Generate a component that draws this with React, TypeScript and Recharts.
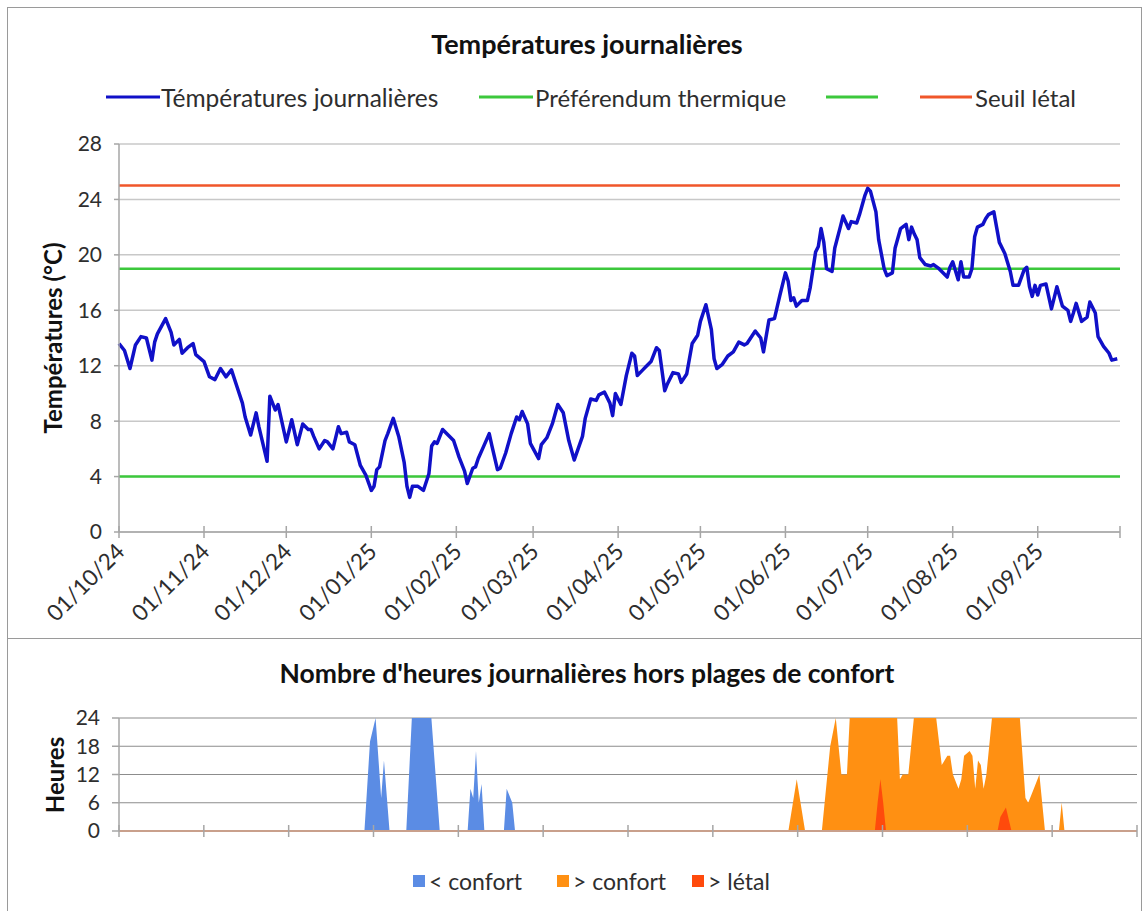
import React from "react";
import {
  LineChart,
  Line,
  ComposedChart,
  Area,
  XAxis,
  YAxis,
  CartesianGrid,
  ReferenceLine,
} from "recharts";

const FONT = 'Lato, "Open Sans", sans-serif';

// days counted from 01/10/24
const monthTicks = [0, 31, 61, 92, 123, 151, 182, 212, 243, 273, 304, 335, 365];
const monthLabels = [
  "01/10/24", "01/11/24", "01/12/24", "01/01/25", "01/02/25", "01/03/25",
  "01/04/25", "01/05/25", "01/06/25", "01/07/25", "01/08/25", "01/09/25", "",
];
const tempTicks = [0, 4, 8, 12, 16, 20, 24, 28];
const hourTicks = [0, 6, 12, 18, 24];

const PREF_LOW = 4;
const PREF_HIGH = 19;
const LETHAL = 25;

// [day, °C]
const dailyTemps: [number, number][] = [
  [0, 13.6], [2, 13.1], [4, 11.8], [6, 13.5], [8, 14.1], [10, 14.0], [12, 12.4], [13, 13.7],
  [14, 14.3], [17, 15.4], [19, 14.4], [20, 13.5], [22, 13.9], [23, 12.9], [25, 13.3], [27, 13.6],
  [28, 12.8], [31, 12.3], [33, 11.2], [35, 11.0], [37, 11.8], [39, 11.2], [41, 11.7], [43, 10.5],
  [45, 9.3], [46, 8.3], [48, 7.0], [50, 8.6], [51, 7.6], [54, 5.1], [55, 9.8], [57, 8.8],
  [58, 9.2], [59, 8.3], [61, 6.5], [63, 8.1], [65, 6.3], [67, 7.8], [69, 7.4], [70, 7.4],
  [71, 6.9], [73, 6.0], [75, 6.6], [76, 6.5], [78, 6.0], [80, 7.6], [81, 7.1], [83, 7.2],
  [84, 6.5], [86, 6.3], [88, 4.8], [90, 4.1], [92, 3.0], [93, 3.3], [94, 4.5], [95, 4.7],
  [97, 6.6], [98, 7.1], [100, 8.2], [102, 6.9], [104, 5.0], [105, 3.3], [106, 2.5], [107, 3.3],
  [109, 3.3], [111, 3.0], [113, 4.2], [114, 6.2], [115, 6.5], [116, 6.4], [118, 7.4], [120, 7.0],
  [122, 6.6], [124, 5.4], [126, 4.4], [127, 3.5], [129, 4.6], [130, 4.7], [131, 5.3], [133, 6.2],
  [135, 7.1], [136, 6.2], [138, 4.5], [139, 4.6], [141, 5.7], [143, 7.1], [145, 8.3], [146, 8.1],
  [147, 8.7], [149, 7.8], [150, 6.4], [153, 5.3], [154, 6.3], [156, 6.8], [158, 7.8], [160, 9.2],
  [162, 8.6], [164, 6.6], [166, 5.2], [169, 6.9], [170, 8.2], [172, 9.6], [174, 9.5], [175, 9.9],
  [177, 10.1], [179, 9.3], [180, 8.4], [181, 10.0], [183, 9.2], [185, 11.3], [187, 12.9], [188, 12.7],
  [189, 11.3], [191, 11.7], [192, 11.9], [194, 12.3], [196, 13.3], [197, 13.1], [199, 10.2], [200, 10.7],
  [202, 11.5], [204, 11.4], [205, 10.8], [207, 11.4], [209, 13.6], [211, 14.2], [212, 15.2], [214, 16.4],
  [216, 14.6], [217, 12.5], [218, 11.8], [220, 12.1], [222, 12.7], [224, 13.0], [226, 13.7], [228, 13.5],
  [229, 13.6], [232, 14.5], [234, 14.0], [235, 13.0], [237, 15.3], [239, 15.4], [241, 17.1], [243, 18.7],
  [244, 18.1], [245, 16.7], [246, 16.9], [247, 16.3], [249, 16.7], [251, 16.7], [252, 17.6], [254, 20.2],
  [255, 20.6], [256, 21.9], [257, 20.9], [258, 19.0], [260, 18.8], [261, 20.5], [263, 22.0], [264, 22.8],
  [266, 21.9], [267, 22.4], [269, 22.3], [270, 22.9], [272, 24.3], [273, 24.8], [274, 24.6], [276, 23.1],
  [277, 21.1], [279, 19.0], [280, 18.5], [282, 18.7], [283, 20.5], [285, 21.9], [287, 22.2], [288, 21.1],
  [289, 22.0], [290, 21.5], [291, 21.1], [292, 19.8], [294, 19.3], [296, 19.2], [297, 19.3], [299, 19.0],
  [300, 18.8], [302, 18.4], [303, 19.1], [304, 19.5], [306, 18.2], [307, 19.5], [308, 18.4], [310, 18.4],
  [311, 19.0], [312, 21.3], [313, 22.0], [315, 22.2], [316, 22.6], [317, 22.9], [319, 23.1], [320, 22.0],
  [321, 20.9], [323, 20.1], [325, 18.8], [326, 17.8], [328, 17.8], [330, 18.9], [331, 19.1], [332, 17.7],
  [333, 17.0], [334, 17.8], [335, 17.1], [336, 17.8], [338, 17.9], [340, 16.1], [341, 16.9], [342, 17.7],
  [344, 16.3], [346, 16.0], [347, 15.2], [348, 15.8], [349, 16.5], [351, 15.2], [353, 15.5], [354, 16.6],
  [356, 15.8], [357, 14.1], [359, 13.4], [361, 12.9], [362, 12.4], [364, 12.5],
];

// [day, hours per day]
const coldHours: [number, number][] = [
  [0, 0], [88, 0], [90, 19], [92, 24], [94, 7], [95, 15], [97, 0],
  [103, 0], [105, 24], [112, 24], [115, 0],
  [125, 0], [126, 9], [127, 7], [128, 17], [129, 6], [130, 10], [131, 0],
  [138, 0], [139, 9], [141, 6], [142, 0], [365, 0],
];
const warmHours: [number, number][] = [
  [0, 0], [240, 0], [243, 11], [246, 0], [252, 0], [255, 18], [257, 24], [259, 12],
  [261, 12], [262, 24], [279, 24], [280, 11], [281, 12], [283, 12], [285, 24], [293, 24],
  [295, 14], [297, 16], [298, 16], [299, 12], [301, 9], [302, 11], [303, 16], [305, 17],
  [306, 16], [307, 9], [308, 15], [309, 14], [310, 9], [311, 12], [313, 24], [323, 24],
  [325, 7], [326, 6], [328, 9], [330, 12], [332, 0], [337, 0], [338, 6], [339, 0], [365, 0],
];
const lethalHours: [number, number][] = [
  [0, 0], [271, 0], [272, 6], [273, 11], [274, 6], [275, 0],
  [315, 0], [316, 3], [318, 5], [320, 0], [365, 0],
];

const hourAxisTicks = Array.from({ length: 13 }, (_, i) => (365 * i) / 12);

const tempData = dailyTemps.map(([day, temp]) => ({ day, temp }));
const toRows = (arr: [number, number][]) => arr.map(([day, h]) => ({ day, h }));

const AXIS = "#A6A6A6";
const TXT = "#2E2E2E";

function MonthTick(props: any) {
  const { x, y, payload } = props;
  const label = monthLabels[monthTicks.indexOf(payload.value)] ?? "";
  const ax = x + 1;
  const ay = y + 15;
  return (
    <g>
      <line x1={x} x2={x} y1={y - 6} y2={y + 6} stroke={AXIS} strokeWidth={1.5} />
      {label && (
        <text
          x={ax}
          y={ay}
          transform={`rotate(-45, ${ax}, ${ay})`}
          textAnchor="end"
          dominantBaseline="central"
          fontSize={22.5}
          fontFamily={FONT}
          fill={TXT}
        >
          {label}
        </text>
      )}
    </g>
  );
}

function CrossTick(props: any) {
  const { x, y } = props;
  return <line x1={x} x2={x} y1={y - 6} y2={y + 6} stroke={AXIS} strokeWidth={1.5} />;
}

export default function App() {
  const abs: React.CSSProperties = { position: "absolute", left: 0, top: 0 };
  return (
    <div
      style={{
        position: "fixed",
        left: 0,
        top: 0,
        width: 1146,
        height: 911,
        background: "#fff",
        fontFamily: FONT,
        overflow: "hidden",
      }}
    >
      <div style={{ position: "absolute", left: 7, top: 7, width: 1133, height: 630, border: "1.5px solid #9A9A9A" }} />
      <div style={{ position: "absolute", left: 7, top: 638, width: 1133, height: 280, border: "1.5px solid #9A9A9A" }} />

      <div style={abs}>
        <LineChart width={1146} height={640} data={tempData} margin={{ top: 144, right: 26, left: 0, bottom: 8 }}>
          <CartesianGrid vertical={false} stroke="#C8C8C8" strokeWidth={1.5} />
          <XAxis
            type="number"
            dataKey="day"
            domain={[0, 365]}
            ticks={monthTicks}
            interval={0}
            height={100}
            tickSize={0}
            tickMargin={0}
            tickLine={false}
            axisLine={{ stroke: AXIS, strokeWidth: 1.5 }}
            tick={(p: any) => <MonthTick {...p} />}
          />
          <YAxis
            type="number"
            domain={[0, 28]}
            ticks={tempTicks}
            interval={0}
            width={119}
            tickSize={5}
            tickMargin={12}
            tickLine={{ stroke: AXIS, strokeWidth: 1.5 }}
            axisLine={{ stroke: AXIS, strokeWidth: 1.5 }}
            tick={{ fontSize: 21, fill: TXT, fontFamily: FONT }}
          />
          <ReferenceLine y={PREF_LOW} stroke="#3CC83C" strokeWidth={2.5} />
          <ReferenceLine y={PREF_HIGH} stroke="#3CC83C" strokeWidth={2.5} />
          <ReferenceLine y={LETHAL} stroke="#F0562A" strokeWidth={2.5} />
          <Line
            type="linear"
            dataKey="temp"
            stroke="#1010C8"
            strokeWidth={3.5}
            strokeLinejoin="round"
            dot={false}
            isAnimationActive={false}
          />
        </LineChart>
      </div>

      <div style={abs}>
        <ComposedChart width={1146} height={911} margin={{ top: 718, right: 9, left: 0, bottom: 50 }}>
          <CartesianGrid vertical={false} stroke="#8C8C8C" strokeWidth={1.2} />
          <XAxis
            type="number"
            dataKey="day"
            domain={[0, 365]}
            ticks={hourAxisTicks}
            interval={0}
            height={30}
            tickSize={0}
            tickMargin={0}
            tickLine={false}
            axisLine={{ stroke: "#C9A08C", strokeWidth: 2 }}
            tick={(p: any) => <CrossTick {...p} />}
          />
          <YAxis
            type="number"
            domain={[0, 24]}
            ticks={hourTicks}
            interval={0}
            width={119}
            tickSize={7}
            tickMargin={12}
            tickLine={{ stroke: AXIS, strokeWidth: 1.5 }}
            axisLine={{ stroke: AXIS, strokeWidth: 1.5 }}
            tick={{ fontSize: 21, fill: TXT, fontFamily: FONT }}
          />
          <Area data={toRows(coldHours)} dataKey="h" type="linear" fill="#5B8CE4" fillOpacity={1} stroke="none" isAnimationActive={false} />
          <Area data={toRows(warmHours)} dataKey="h" type="linear" fill="#FF9012" fillOpacity={1} stroke="none" isAnimationActive={false} />
          <Area data={toRows(lethalHours)} dataKey="h" type="linear" fill="#FF4A0C" fillOpacity={1} stroke="none" isAnimationActive={false} />
        </ComposedChart>
      </div>

      <svg width={1146} height={911} style={{ ...abs, pointerEvents: "none" }} fontFamily={FONT}>
        <text x={587} y={43} textAnchor="middle" dominantBaseline="central" fontSize={27} fontWeight="bold" fill="#111">
          Températures journalières
        </text>
        <line x1={106} x2={160} y1={97} y2={97} stroke="#1010C8" strokeWidth={3} />
        <text x={161} y={97} dominantBaseline="central" fontSize={24.5} fill={TXT}>Témpératures journalières</text>
        <line x1={479} x2={533} y1={97} y2={97} stroke="#3CC83C" strokeWidth={3} />
        <text x={535} y={97} dominantBaseline="central" fontSize={24} fill={TXT}>Préférendum thermique</text>
        <line x1={826} x2={878} y1={97} y2={97} stroke="#3CC83C" strokeWidth={3} />
        <line x1={920} x2={972} y1={97} y2={97} stroke="#F0562A" strokeWidth={3} />
        <text x={975} y={97} dominantBaseline="central" fontSize={24} fill={TXT}>Seuil létal</text>
        <text
          x={52}
          y={338}
          transform="rotate(-90, 52, 338)"
          textAnchor="middle"
          dominantBaseline="central"
          fontSize={24}
          fontWeight="bold"
          fill="#111"
        >
          Températures (°C)
        </text>

        <text x={587} y={673} textAnchor="middle" dominantBaseline="central" fontSize={26.5} fontWeight="bold" fill="#111">
          Nombre d'heures journalières hors plages de confort
        </text>
        <text
          x={54}
          y={775}
          transform="rotate(-90, 54, 775)"
          textAnchor="middle"
          dominantBaseline="central"
          fontSize={24}
          fontWeight="bold"
          fill="#111"
        >
          Heures
        </text>
        <rect x={413} y={875} width={12} height={12} fill="#5B8CE4" />
        <text x={429} y={881} dominantBaseline="central" fontSize={23} fill={TXT}>{"< confort"}</text>
        <rect x={557} y={875} width={12} height={12} fill="#FF9012" />
        <text x={573} y={881} dominantBaseline="central" fontSize={23} fill={TXT}>{"> confort"}</text>
        <rect x={692} y={875} width={12} height={12} fill="#FF4A0C" />
        <text x={708} y={881} dominantBaseline="central" fontSize={23} fill={TXT}>{"> létal"}</text>
      </svg>
    </div>
  );
}
